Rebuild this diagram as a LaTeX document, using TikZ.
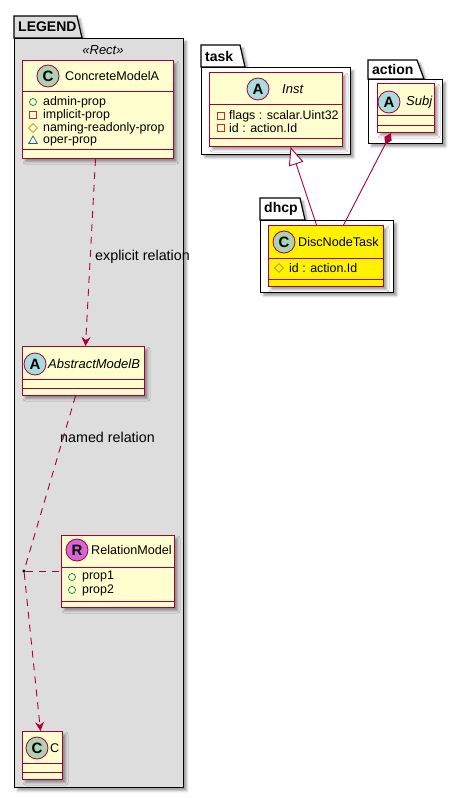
\documentclass[tikz,border=0pt]{standalone}
\usepackage{fontspec}
\setmainfont{Liberation Sans}
\usetikzlibrary{arrows.meta,shadows.blur,shapes.geometric}

\definecolor{umlred}{HTML}{A80036}
\definecolor{boxfill}{HTML}{FEFECE}
\definecolor{legendfill}{HTML}{DDDDDD}
\definecolor{badgeC}{HTML}{ADD1B2}
\definecolor{badgeA}{HTML}{A9DCDF}
\definecolor{badgeR}{HTML}{D864D8}
\definecolor{pubgreen}{HTML}{038048}
\definecolor{privred}{HTML}{C82930}
\definecolor{protgold}{HTML}{B38D22}
\definecolor{pkgblue}{HTML}{1963A0}

\tikzset{
	shade box/.style={blur shadow={shadow xshift=3pt,shadow yshift=-3pt,shadow blur radius=2.5pt,shadow opacity=40}},
	umlbox/.style={draw=umlred,fill=boxfill,line width=1pt,inner sep=0pt,anchor=north west,shade box},
	pkgbody/.style={draw=black,fill=white,line width=1.2pt,inner sep=0pt,anchor=north west,shade box},
	pkgtab/.style={draw=black,fill=white,line width=1.2pt,shade box},
	pkgname/.style={anchor=west,inner sep=0pt,font=\bfseries\fontsize{14}{16}\selectfont},
	sepline/.style={draw=umlred,line width=1pt},
	badge/.style={circle,draw=umlred,line width=0.8pt,minimum size=22pt,inner sep=0pt,font=\bfseries\fontsize{15}{15}\selectfont},
	clsname/.style={anchor=west,inner sep=0pt,font=\fontsize{12.6}{15}\selectfont},
	attr/.style={anchor=west,inner sep=0pt,font=\fontsize{12.4}{14}\selectfont},
	rellabel/.style={anchor=west,inner sep=0pt,font=\fontsize{14.3}{16}\selectfont},
	pubicon/.style={circle,draw=pubgreen,line width=0.7pt,minimum size=7pt,inner sep=0pt},
	privicon/.style={rectangle,draw=privred,line width=0.7pt,minimum size=6.5pt,inner sep=0pt},
	proticon/.style={diamond,aspect=1,draw=protgold,line width=0.7pt,minimum size=9pt,inner sep=0pt},
	pkgicon/.style={regular polygon,regular polygon sides=3,draw=pkgblue,line width=0.7pt,minimum size=10pt,inner sep=0pt},
	rel/.style={draw=umlred,line width=0.9pt},
	dashrel/.style={rel,dash pattern=on 7pt off 6pt},
	junction/.style={circle,fill=black,minimum size=3.5pt,inner sep=0pt}
}

\begin{document}
\begin{tikzpicture}[x=1pt,y=-1pt]
	\useasboundingbox (0,0) rectangle (463,798);

	% LEGEND
	\draw[pkgtab,fill=legendfill] (14,38) -- (14,16) -- (77,16) -- (82,38) -- cycle;
	\node[pkgbody,fill=legendfill,minimum width=169pt,minimum height=749pt] (legend) at (14,38) {};
	\node[pkgname] (legendName) at (18,27) {LEGEND};
	\node[font=\itshape\fontsize{13}{15}\selectfont,inner sep=0pt] (legendStereo) at (103,50) {«Rect»};

	\node[umlbox,minimum width=151pt,minimum height=98pt] (concA) at (22,60) {};
	\draw[sepline] ([yshift=-31pt]concA.north west) -- ([yshift=-31pt]concA.north east)
		([yshift=10pt]concA.south west) -- ([yshift=10pt]concA.south east);
	\node[badge,fill=badgeC] (concABadge) at (48,76) {C};
	\node[clsname] (concAName) at (65,76) {ConcreteModelA};
	\node[pubicon] (concAIconA) at (33,102) {};
	\node[attr] (concAAttrA) at (43,102) {admin-prop};
	\node[privicon] (concAIconB) at (33,115) {};
	\node[attr] (concAAttrB) at (43,115) {implicit-prop};
	\node[proticon] (concAIconC) at (33,128) {};
	\node[attr] (concAAttrC) at (43,128) {naming-readonly-prop};
	\node[pkgicon] (concAIconD) at (33,141) {};
	\node[attr] (concAAttrD) at (43,141) {oper-prop};

	\node[umlbox,minimum width=122pt,minimum height=49pt] (absB) at (22,346) {};
	\draw[sepline] ([yshift=-33pt]absB.north west) -- ([yshift=-33pt]absB.north east)
		([yshift=8pt]absB.south west) -- ([yshift=8pt]absB.south east);
	\node[badge,fill=badgeA] (absBBadge) at (35,364) {A};
	\node[clsname,font=\itshape\fontsize{13}{15}\selectfont] (absBName) at (48,364) {AbstractModelB};

	\node[umlbox,minimum width=113pt,minimum height=72pt] (relM) at (61,535) {};
	\draw[sepline] ([yshift=-32pt]relM.north west) -- ([yshift=-32pt]relM.north east)
		([yshift=7pt]relM.south west) -- ([yshift=7pt]relM.south east);
	\node[badge,fill=badgeR] (relMBadge) at (77,550) {R};
	\node[clsname] (relMName) at (91,550) {RelationModel};
	\node[pubicon] (relMIconA) at (72,577) {};
	\node[attr] (relMAttrA) at (82,577) {prop1};
	\node[pubicon] (relMIconB) at (72,590) {};
	\node[attr] (relMAttrB) at (82,590) {prop2};

	\node[umlbox,minimum width=40pt,minimum height=48pt] (modC) at (22,731) {};
	\draw[sepline] ([yshift=-32pt]modC.north west) -- ([yshift=-32pt]modC.north east)
		([yshift=8pt]modC.south west) -- ([yshift=8pt]modC.south east);
	\node[badge,fill=badgeC] (modCBadge) at (37,748) {C};
	\node[clsname] (modCName) at (50,748) {C};

	\node[junction] (jn) at (24,571) {};

	\draw[dashrel,-{Stealth[length=9pt,width=9pt,inset=3pt]}] ([xshift=-2.5pt]concA.south) -- ([xshift=2pt]absB.north);
	\node[rellabel] (explicitLbl) at (95,257) {explicit relation};
	\draw[dashrel] ([xshift=-8pt]absB.south) -- (jn);
	\node[rellabel] (namedLbl) at (60,437) {named relation};
	\draw[dashrel,-{Stealth[length=9pt,width=9pt,inset=3pt]}] (jn) -- ([xshift=-2pt]modC.north);
	\draw[dashrel] (jn) -- (jn -| relM.west);

	% task
	\draw[pkgtab] (201,67) -- (201,45) -- (240,45) -- (245,67) -- cycle;
	\node[pkgbody,minimum width=149pt,minimum height=87pt] (task) at (201,67) {};
	\node[pkgname] (taskName) at (205,56) {task};

	\node[umlbox,minimum width=133pt,minimum height=74pt] (inst) at (209,72) {};
	\draw[sepline] ([yshift=-32pt]inst.north west) -- ([yshift=-32pt]inst.north east)
		([yshift=9pt]inst.south west) -- ([yshift=9pt]inst.south east);
	\node[badge,fill=badgeA] (instBadge) at (258,89) {A};
	\node[clsname,font=\itshape\fontsize{13}{15}\selectfont] (instName) at (282,89) {Inst};
	\node[privicon] (instIconA) at (221,116) {};
	\node[attr] (instAttrA) at (229,116) {flags : scalar.Uint32};
	\node[privicon] (instIconB) at (221,128) {};
	\node[attr] (instAttrB) at (229,128) {id : action.Id};

	% action
	\draw[pkgtab] (368,79) -- (368,60) -- (417,60) -- (424,79) -- cycle;
	\node[pkgbody,minimum width=74pt,minimum height=64pt] (action) at (368,79) {};
	\node[pkgname] (actionName) at (372,69) {action};

	\node[umlbox,minimum width=57pt,minimum height=49pt] (subj) at (377,83) {};
	\draw[sepline] ([yshift=-32pt]subj.north west) -- ([yshift=-32pt]subj.north east)
		([yshift=8pt]subj.south west) -- ([yshift=8pt]subj.south east);
	\node[badge,fill=badgeA] (subjBadge) at (389,102) {A};
	\node[clsname,font=\itshape\fontsize{13}{15}\selectfont] (subjName) at (406,102) {Subj};

	% dhcp
	\draw[pkgtab] (260,220) -- (260,198) -- (300,198) -- (305,220) -- cycle;
	\node[pkgbody,minimum width=133pt,minimum height=72pt] (dhcp) at (260,220) {};
	\node[pkgname] (dhcpName) at (264,209) {dhcp};

	\node[umlbox,fill=yellow,minimum width=115pt,minimum height=61pt] (disc) at (268,225) {};
	\draw[sepline] ([yshift=-33pt]disc.north west) -- ([yshift=-33pt]disc.north east)
		([yshift=8pt]disc.south west) -- ([yshift=8pt]disc.south east);
	\node[badge,fill=badgeC] (discBadge) at (284,242) {C};
	\node[clsname] (discName) at (298,242) {DiscNodeTask};
	\node[proticon] (discIconA) at (279,268) {};
	\node[attr] (discAttrA) at (289,268) {id : action.Id};

	\draw[rel,-{Triangle[open,length=18pt,width=15pt,fill=white]}] ([xshift=-9.5pt]disc.north) -- ([xshift=14.5pt]inst.south);
	\draw[rel,{Diamond[length=13pt,width=8pt]}-] ([xshift=-15pt]subj.south) -- ([xshift=17.5pt]disc.north);
\end{tikzpicture}
\end{document}
